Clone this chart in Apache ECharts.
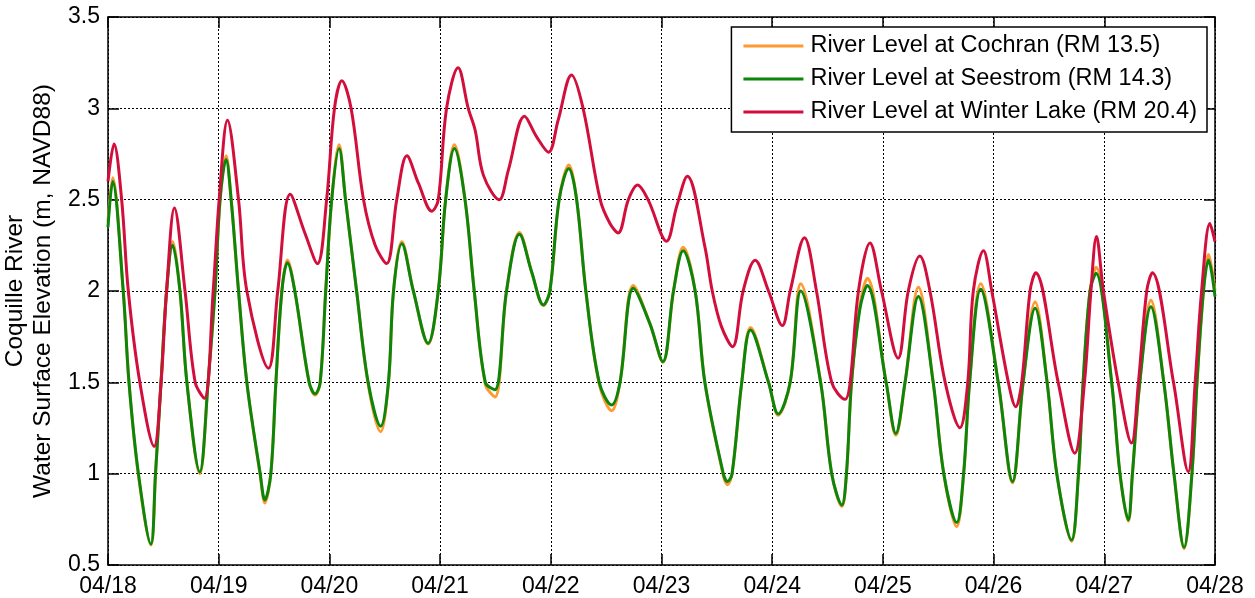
<!DOCTYPE html>
<html>
<head>
<meta charset="utf-8">
<title>Coquille River water levels</title>
<script src="https://cdn.jsdelivr.net/npm/echarts@6/dist/echarts.min.js"></script>
<style>
  html, body { margin: 0; padding: 0; background: #fff; }
  #chart { width: 1255px; height: 598px; }
</style>
</head>
<body>
<div id="chart"></div>
<script>
// Tick labels along the time axis (one per day, 24 h apart)
const dayLabels = ['04/18', '04/19', '04/20', '04/21', '04/22', '04/23', '04/24', '04/25', '04/26', '04/27', '04/28'];

// Hours since 04/18 00:00 for the Seestrom / Cochran readings
const lowerRiverHours = [
  0, 1.0, 3.3, 4.55, 6.6, 9.3, 10.3, 11.5, 12.7, 14.0, 15.6, 17.1, 19.9, 21.7, 23.2, 24.3,
  25.6, 26.7, 28.3, 30.1, 33.0, 34.0, 35.3, 36.4, 37.7, 38.9, 40.5, 43.6, 44.9, 46.0, 47.2, 48.5,
  50.1, 51.5, 53.9, 56.4, 59.1, 60.8, 61.9, 63.7, 66.2, 69.4, 71.6, 73.2,
  75.1, 77.4, 79.4, 81.8, 83.9, 86.4, 89.2, 91.9, 94.4, 95.8, 97.8,
  99.9, 101.6, 103.6, 106.5, 109.2, 111.0, 113.9, 117.5, 120.3, 122.6,
  124.7, 127.3, 129.4, 133.4, 134.3, 135.3, 137.4, 139.3, 143.2, 145.3, 147.9,
  150.2, 154.5, 156.9, 159.1, 160.1, 161.2, 163.0, 164.6, 168.7, 170.8, 172.8,
  175.7, 178.9, 181.2, 184.0, 185.5, 186.8, 189.2, 193.0, 196.1, 198.4,
  201.0, 203.6, 205.7, 208.9, 210.4, 211.4, 212.9, 214.2, 217.6, 219.4, 221.2, 222.1, 223.7,
  226.1, 228.9, 231.1, 233.3, 235.0, 236.1, 237.5, 238.6, 240
];

// River Level at Cochran (RM 13.5), m NAVD88
const cochranLevel = [
  2.38, 2.62, 2.0, 1.5, 0.99, 0.61, 1.0, 1.5, 2.0, 2.27, 2.0, 1.5, 1.00, 1.5, 2.0, 2.5,
  2.74, 2.5, 2.0, 1.5, 0.99, 0.84, 1.0, 1.5, 2.0, 2.17, 2.0, 1.5, 1.43, 1.5, 2.0, 2.5,
  2.80, 2.5, 2.0, 1.49, 1.23, 1.5, 2.0, 2.27, 2.0, 1.71, 2.0, 2.5,
  2.80, 2.5, 2.0, 1.49, 1.42, 2.0, 2.32, 2.1, 1.92, 2.0, 2.5,
  2.69, 2.5, 2.0, 1.49, 1.345, 1.5, 2.03, 1.82, 1.61, 2.0,
  2.24, 2.0, 1.5, 0.99, 0.94, 1.0, 1.5, 1.80, 1.5, 1.32, 1.5,
  2.04, 1.5, 1.0, 0.82, 1.0, 1.5, 1.92, 2.07, 1.5, 1.21, 1.5,
  2.02, 1.5, 1.0, 0.71, 1.0, 1.5, 2.04, 1.5, 0.95, 1.5,
  1.94, 1.5, 1.0, 0.63, 1.0, 1.5, 2.0, 2.13, 1.5, 1.0, 0.74, 1.0, 1.5,
  1.95, 1.5, 1.0, 0.59, 1.0, 1.5, 2.0, 2.20, 2.00
];

// River Level at Seestrom (RM 14.3), m NAVD88
const seestromLevel = [
  2.35, 2.60, 2.0, 1.5, 1.0, 0.615, 1.0, 1.5, 2.0, 2.25, 2.0, 1.5, 1.01, 1.5, 2.0, 2.5,
  2.72, 2.5, 2.0, 1.5, 1.0, 0.856, 1.0, 1.5, 2.0, 2.155, 2.0, 1.5, 1.437, 1.5, 2.0, 2.5,
  2.78, 2.5, 2.0, 1.5, 1.26, 1.5, 2.0, 2.258, 2.0, 1.714, 2.0, 2.5,
  2.78, 2.5, 2.0, 1.5, 1.46, 2.0, 2.31, 2.1, 1.924, 2.0, 2.5,
  2.67, 2.5, 2.0, 1.5, 1.376, 1.5, 2.015, 1.82, 1.613, 2.0,
  2.22, 2.0, 1.5, 1.0, 0.957, 1.0, 1.5, 1.787, 1.5, 1.327, 1.5,
  2.00, 1.5, 1.0, 0.829, 1.0, 1.5, 1.90, 2.03, 1.5, 1.22, 1.5,
  1.97, 1.5, 1.0, 0.732, 1.0, 1.5, 2.01, 1.5, 0.957, 1.5,
  1.905, 1.5, 1.0, 0.637, 1.0, 1.5, 2.0, 2.097, 1.5, 1.0, 0.747, 1.0, 1.5,
  1.914, 1.5, 1.0, 0.597, 1.0, 1.5, 2.0, 2.17, 1.97
];

// Hours since 04/18 00:00 and levels for River Level at Winter Lake (RM 20.4)
const winterLakeHours = [
  0, 1.3, 2.96, 4.4, 6.9, 10.0, 11.5, 12.7, 14.4, 16.7, 18.9, 20.9, 22.8, 24.1,
  25.9, 28.3, 30.1, 34.8, 36.8, 39.5, 42.7, 45.4, 47.4, 49.1,
  50.7, 52.7, 55.4, 57.9, 60.4, 62.6, 64.8, 67.3, 70.2, 71.6, 73.4,
  75.9, 78.1, 79.6, 81.4, 84.8, 86.8, 90.3, 92.9, 95.5, 97.6,
  100.5, 103.0, 106.7, 108.8, 110.6, 112.8, 114.8, 117.1, 121.1, 123.3,
  125.6, 129.4, 131.0, 133.0, 135.4, 137.7, 140.3, 143.2, 146.2, 147.9,
  151.0, 153.6, 156.9, 159.8, 160.9, 162.7, 165.2, 167.7, 171.3, 173.5,
  176.0, 178.2, 181.5, 184.7, 186.4, 187.6, 189.8, 191.6, 195.2, 196.8, 198.1, 199.9,
  201.1, 206.0, 209.6, 211.7, 213.1, 214.3, 215.8, 219.0, 221.9, 223.4, 225.2,
  226.4, 231.0, 234.2, 235.7, 237.1, 238.9, 240
];
const winterLakeLevel = [
  2.60, 2.805, 2.5, 2.0, 1.5, 1.15, 1.5, 2.0, 2.455, 2.0, 1.5, 1.413, 2.0, 2.5,
  2.935, 2.5, 2.0, 1.577, 2.0, 2.53, 2.316, 2.15, 2.5, 3.0,
  3.151, 3.0, 2.5, 2.252, 2.15, 2.5, 2.74, 2.59, 2.437, 2.5, 3.0,
  3.222, 3.0, 2.88, 2.633, 2.50, 2.662, 2.957, 2.845, 2.76, 2.936,
  3.183, 3.0, 2.5, 2.371, 2.318, 2.499, 2.58, 2.499, 2.273, 2.464,
  2.628, 2.243, 2.0, 1.805, 1.695, 2.0, 2.168, 2.0, 1.811, 2.0,
  2.292, 2.0, 1.5, 1.407, 1.5, 2.0, 2.263, 2.0, 1.632, 2.0,
  2.191, 2.0, 1.5, 1.252, 1.5, 2.0, 2.22, 2.0, 1.5, 1.367, 1.5, 2.0,
  2.10, 1.5, 1.112, 1.5, 2.0, 2.298, 2.0, 1.5, 1.168, 1.5, 2.0,
  2.10, 1.5, 1.011, 1.5, 2.0, 2.369, 2.27
];

const pair = (hours, values) => hours.map((h, i) => [h, values[i]]);

const FONT = 'Liberation Sans, Arial, Helvetica, sans-serif';
const AXIS_COLOR = '#000';

const chart = echarts.init(document.getElementById('chart'), null, { renderer: 'canvas' });

const lineSeries = (name, color, data) => ({
  name,
  type: 'line',
  data,
  smooth: 0.35,
  showSymbol: false,
  symbol: 'none',
  lineStyle: { color, width: 3 },
  itemStyle: { color },
  emphasis: { disabled: true },
  animation: false
});

// Every side of the plot box carries an axis line with inward ticks
const boxAxis = (extra) => Object.assign({
  type: 'value',
  axisLine: { show: true, onZero: false, lineStyle: { color: AXIS_COLOR, width: 1.5 } },
  axisTick: { show: true, inside: true, length: 11, lineStyle: { color: AXIS_COLOR, width: 1.5 } },
  axisLabel: { show: false },
  splitLine: { show: false }
}, extra);

chart.setOption({
  animation: false,
  backgroundColor: '#fff',
  grid: { left: 108, right: 40, top: 17, bottom: 33, containLabel: false, outerBoundsMode: 'none' },
  legend: {
    orient: 'vertical',
    right: 48,
    top: 27,
    padding: [7, 10, 8, 12],
    itemGap: 9,
    itemWidth: 60,
    itemHeight: 3,
    icon: 'rect',
    backgroundColor: '#fff',
    borderColor: '#000',
    borderWidth: 1.5,
    borderRadius: 0,
    textStyle: { fontFamily: FONT, fontSize: 23.5, color: '#000', padding: [0, 0, 0, 2] },
    data: ['River Level at Cochran (RM 13.5)', 'River Level at Seestrom (RM 14.3)', 'River Level at Winter Lake (RM 20.4)']
  },
  xAxis: [
    boxAxis({
      position: 'bottom',
      min: 0,
      max: 240,
      interval: 24,
      axisLabel: {
        show: true,
        margin: 10,
        fontFamily: FONT,
        fontSize: 23,
        color: '#000',
        formatter: (v) => dayLabels[Math.round(v / 24)]
      },
      splitLine: { show: true, lineStyle: { color: '#000', width: 1, type: [2, 2] } }
    }),
    boxAxis({ position: 'top', min: 0, max: 240, interval: 24 })
  ],
  yAxis: [
    boxAxis({
      position: 'left',
      min: 0.5,
      max: 3.5,
      interval: 0.5,
      name: 'Coquille River\nWater Surface Elevation (m, NAVD88)',
      nameLocation: 'middle',
      nameGap: 43,
      nameTextStyle: { fontFamily: FONT, fontSize: 24.5, color: '#000', lineHeight: 28, align: 'center' },
      axisLabel: {
        show: true,
        margin: 8,
        fontFamily: FONT,
        fontSize: 23,
        color: '#000',
        formatter: (v) => String(Number(v.toFixed(1)))
      },
      splitLine: { show: true, lineStyle: { color: '#000', width: 1, type: [2, 2] } }
    }),
    boxAxis({ position: 'right', min: 0.5, max: 3.5, interval: 0.5 })
  ],
  series: [
    lineSeries('River Level at Cochran (RM 13.5)', '#FF9A33', pair(lowerRiverHours, cochranLevel)),
    lineSeries('River Level at Seestrom (RM 14.3)', '#0B860B', pair(lowerRiverHours, seestromLevel)),
    lineSeries('River Level at Winter Lake (RM 20.4)', '#D20F3C', pair(winterLakeHours, winterLakeLevel))
  ]
});
</script>
</body>
</html>
